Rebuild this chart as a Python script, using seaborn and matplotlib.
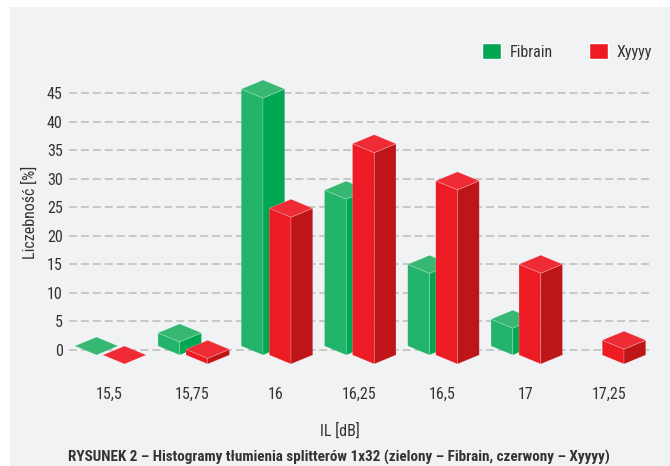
import matplotlib
matplotlib.use("Agg")
import matplotlib.pyplot as plt
from matplotlib.patches import Patch, Polygon, Rectangle
from matplotlib.transforms import Affine2D, ScaledTranslation
import pandas as pd
import seaborn as sns

categories = ["15,5", "15,75", "16", "16,25", "16,5", "17", "17,25"]
fibrain = [0, 2.3, 45, 27.3, 14.3, 4.7, None]
xyyyy = [0, 1, 25.7, 37, 30.5, 15.9, 2.6]
y_ticks = [0, 5, 10, 15, 20, 25, 30, 35, 40, 45]

W, H = 670, 466
PANEL = "#f1f2f4"
TEXT = "#333333"
# face colours per series: front, side, top
FACES = {
    "Fibrain": ("#22b46b", "#00a651", "#36b873"),
    "Xyyyy": ("#ed1c24", "#bd1518", "#ef2b36"),
}
BASE = {"Fibrain": 0.7, "Xyyyy": -0.875}   # floor level of each row of blocks
DEPTH = 1.576                              # isometric half depth, in y units
ORDER = {"Fibrain": 3, "Xyyyy": 4}

sns.set_theme(style="white")
plt.rcParams["font.family"] = ["Roboto Condensed", "DejaVu Sans"]

fig = plt.figure(figsize=(W / 100, H / 100), dpi=100, facecolor="white")
fig.add_artist(Rectangle((10 / W, 0), 1, 1 - 7 / H, transform=fig.transFigure,
                         facecolor=PANEL, edgecolor="none", zorder=-5))

# axes frame in pixels: grid runs 69-650, zero at y=350, 45 at y=93
px_left, px_right, px_top, px_bottom = 69, 650, 70, 372
ax = fig.add_axes([px_left / W, 1 - px_bottom / H,
                   (px_right - px_left) / W, (px_bottom - px_top) / H])
ax.patch.set_visible(False)

df = pd.DataFrame({
    "IL": categories * 2,
    "share": fibrain + xyyyy,
    "series": ["Fibrain"] * len(categories) + ["Xyyyy"] * len(categories),
})
palette = {k: v[0] for k, v in FACES.items()}
sns.barplot(data=df, x="IL", y="share", hue="series", order=categories,
            hue_order=["Fibrain", "Xyyyy"], palette=palette, width=0.673,
            gap=-0.553, saturation=1, legend=False, ax=ax, errorbar=None)

step = 83.25
ax.set_xlim((px_left - 110.5) / step, (px_right - 110.5) / step)
unit = (350 - 93) / 45
ax.set_ylim((350 - px_bottom) / unit, (350 - px_top) / unit)

# turn every bar into an isometric block: sheared front, plus side and top faces
edge = dict(edgecolor=(1, 1, 1, 0.3), linewidth=0.5)
for series, container in zip(["Fibrain", "Xyyyy"], ax.containers):
    front, side, top = FACES[series]
    base = BASE[series]
    z = ORDER[series]
    for bar in container:
        v = bar.get_height()
        if v != v:
            continue
        x0, w = bar.get_x(), bar.get_width()
        half = w / 2
        xm, x1 = x0 + half, x0 + w
        s = DEPTH / half
        bar.set_width(half)
        bar.set_zorder(z)
        bar.set_edgecolor((1, 1, 1, 0.3))
        bar.set_linewidth(0.4)
        shear = Affine2D.from_values(1, -s, 0, 1, 0, base + s * x0)
        bar.set_transform(shear + ax.transData)
        if v > 0:
            ax.add_patch(Polygon([(xm, base - DEPTH), (x1, base),
                                  (x1, base + v), (xm, base + v - DEPTH)],
                                 facecolor=side, zorder=z, **edge))
        ax.add_patch(Polygon([(x0, base + v), (xm, base + v + DEPTH),
                              (x1, base + v), (xm, base + v - DEPTH)],
                             facecolor=top, zorder=z, **edge))

ax.set_yticks(y_ticks)
ax.set_axisbelow(True)
ax.yaxis.grid(True, color="#bcbcbc", linewidth=1.1, linestyle=(0, (5.2, 2.6)), zorder=1)
ax.xaxis.grid(False)
sns.despine(ax=ax, left=True, bottom=True)
ax.tick_params(axis="y", length=0, pad=4.5, labelsize=11.5, labelcolor=TEXT)
ax.tick_params(axis="x", length=0, pad=11, labelsize=11.5, labelcolor=TEXT)
nudge = ScaledTranslation(-1.2 / 100, 0, fig.dpi_scale_trans)
for lab in ax.get_xticklabels():
    lab.set_transform(lab.get_transform() + nudge)
ax.set_xlabel("")
ax.set_ylabel("")

fig.text(29.5 / W, 1 - 212 / H, "Liczebność [%]", rotation=90, ha="center", va="center",
         fontsize=11.5, color=TEXT)
fig.text(339.5 / W, 1 - 431 / H, "IL [dB]", ha="center", va="center",
         fontsize=11.5, color=TEXT)
fig.text(338.5 / W, 1 - 457 / H,
         "RYSUNEK 2 – Histogramy tłumienia splitterów 1x32 (zielony – Fibrain, czerwony – Xyyyy)",
         ha="center", va="center", fontsize=10.9, fontweight="bold", color=TEXT)

handles = [Patch(facecolor="#00a651", label="Fibrain"), Patch(facecolor="#ed1c24", label="Xyyyy")]
fig.legend(handles=handles, ncol=2, frameon=False, loc="center",
           bbox_to_anchor=(567 / W, 1 - 51.5 / H), fontsize=11.5, labelcolor=TEXT,
           handlelength=1.18, handleheight=1.18, handletextpad=0.55, columnspacing=2.3)

fig.savefig("out.png", dpi=100, facecolor="white")
